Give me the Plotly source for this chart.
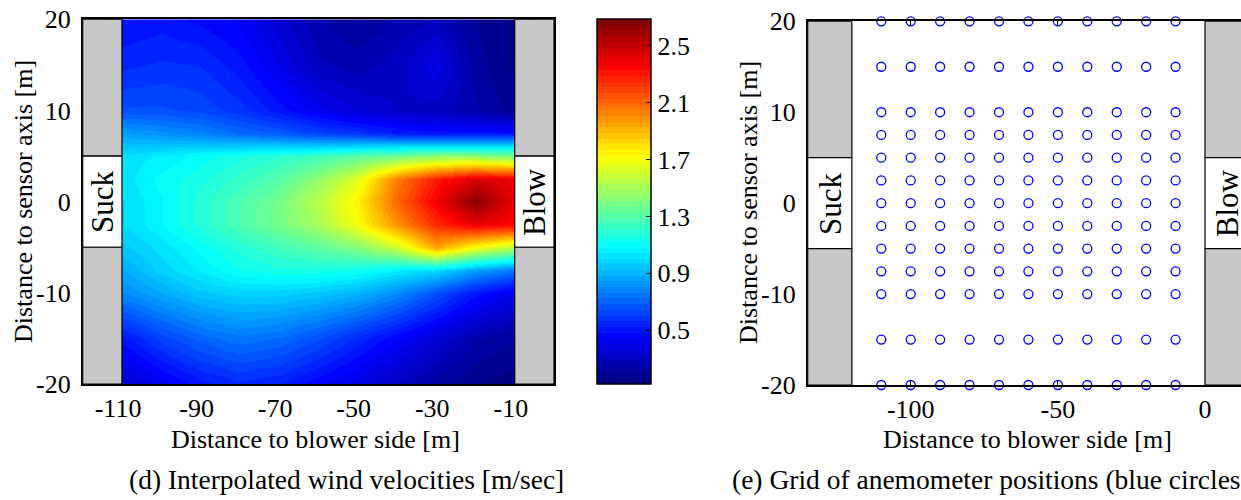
import plotly.graph_objects as go

# ---------------- data ----------------
# anemometer grid (columns = distance to blower side, rows = distance to sensor axis)
x_pos = [-110, -100, -90, -80, -70, -60, -50, -40, -30, -20, -10]
y_pos = [20, 15, 10, 7.5, 5, 2.5, 0, -2.5, -5, -7.5, -10, -15, -20]

# wind velocities [m/sec] at the grid positions (rows follow y_pos, top to bottom)
v_y20 = [0.48, 0.50, 0.47, 0.43, 0.34, 0.25, 0.20, 0.25, 0.28, 0.20, 0.15]
v_y15 = [0.55, 0.57, 0.56, 0.50, 0.40, 0.29, 0.26, 0.30, 0.40, 0.22, 0.15]
v_y10 = [0.65, 0.65, 0.63, 0.58, 0.50, 0.42, 0.36, 0.32, 0.30, 0.25, 0.18]
v_y7_5 = [0.85, 0.82, 0.78, 0.72, 0.68, 0.62, 0.58, 0.52, 0.50, 0.50, 0.50]
v_y5 = [1.02, 1.05, 1.10, 1.15, 1.20, 1.25, 1.32, 1.38, 1.45, 1.45, 1.40]
v_y2_5 = [1.02, 1.10, 1.15, 1.22, 1.30, 1.45, 1.65, 2.05, 2.30, 2.45, 2.40]
v_y0 = [1.00, 1.08, 1.18, 1.28, 1.38, 1.55, 1.75, 2.10, 2.38, 2.65, 2.40]
v_ym2_5 = [1.00, 1.08, 1.18, 1.28, 1.38, 1.50, 1.70, 2.00, 2.25, 2.40, 2.35]
v_ym5 = [0.95, 1.02, 1.10, 1.18, 1.25, 1.32, 1.42, 1.60, 1.95, 1.70, 1.55]
v_ym7_5 = [0.88, 0.98, 1.05, 1.12, 1.15, 1.15, 1.12, 1.05, 1.00, 0.85, 0.75]
v_ym10 = [0.80, 0.88, 0.95, 0.98, 0.98, 0.95, 0.90, 0.80, 0.65, 0.50, 0.40]
v_ym15 = [0.50, 0.62, 0.70, 0.75, 0.72, 0.65, 0.55, 0.45, 0.35, 0.25, 0.20]
v_ym20 = [0.32, 0.42, 0.50, 0.55, 0.52, 0.45, 0.38, 0.30, 0.22, 0.16, 0.14]

velocity_rows = [v_y20, v_y15, v_y10, v_y7_5, v_y5, v_y2_5, v_y0,
                 v_ym2_5, v_ym5, v_ym7_5, v_ym10, v_ym15, v_ym20]

left_xtick_labels = ["-110", "-90", "-70", "-50", "-30", "-10"]
right_xtick_labels = ["-100", "-50", "0"]
ytick_labels = ["-20", "-10", "0", "10", "20"]
cbar_tick_labels = ["0.5", "0.9", "1.3", "1.7", "2.1", "2.5"]
v_min, v_max = 0.12, 2.69

x_title = "Distance to blower side [m]"
y_title = "Distance to sensor axis [m]"
caption_d = "(d) Interpolated wind velocities [m/sec]"
caption_e = "(e) Grid of anemometer positions (blue circles)"

# ---------------- styling ----------------
FONT = "Liberation Serif"
FS = 26
CAP_FS = 27.5
W, H = 1241, 500


def jet(t):
    def c(v):
        return min(max(v, 0.0), 1.0)
    r = c(1.5 - abs(4 * t - 3))
    g = c(1.5 - abs(4 * t - 2))
    b = c(1.5 - abs(4 * t - 1))
    return f"rgb({int(round(r*255))},{int(round(g*255))},{int(round(b*255))})"


N = 64
jet_scale = []
for i in range(N):
    col = jet(i / (N - 1))
    jet_scale.append([i / N, col])
    jet_scale.append([(i + 1) / N, col])


def px_x(p):
    return p / W


def px_y(p):
    return (H - p) / H


L_X0, L_X1, L_Y0, L_Y1 = 82.7, 554.0, 19.3, 384.0
R_X0, R_Y0, R_Y1 = 807.7, 21.3, 385.0

# heatmap data ordered bottom-to-top
y_inc = list(reversed(y_pos))
z_inc = list(reversed(velocity_rows))

fig = go.Figure()

fig.add_trace(go.Heatmap(
    x=x_pos, y=y_inc, z=z_inc,
    zsmooth="best", colorscale=jet_scale, zmin=v_min, zmax=v_max,
    xaxis="x", yaxis="y", hoverinfo="skip",
    colorbar=dict(
        x=px_x(596.7), xanchor="left", xpad=0,
        y=px_y(L_Y1), yanchor="bottom", ypad=0,
        lenmode="pixels", len=L_Y1 - L_Y0,
        thicknessmode="pixels", thickness=54,
        outlinewidth=1.5, outlinecolor="black",
        tickvals=[float(s) for s in cbar_tick_labels], ticktext=cbar_tick_labels,
        ticks="inside", ticklen=5, tickcolor="black",
        tickfont=dict(family=FONT, size=FS, color="black"),
    ),
))

gx, gy = [], []
for yy in y_pos:
    for xx in x_pos:
        gx.append(xx)
        gy.append(yy)

fig.add_trace(go.Scatter(
    x=gx, y=gy, mode="markers", xaxis="x2", yaxis="y2",
    marker=dict(symbol="circle-open", size=9, color="#0000ff",
                line=dict(width=1.3, color="#0000ff")),
    cliponaxis=False, hoverinfo="skip", showlegend=False,
))

axis_common = dict(showgrid=False, zeroline=False, showline=True,
                   linecolor="black", linewidth=1.5,
                   tickfont=dict(family=FONT, size=FS, color="black"))

tick_offset = -1.0
fig.update_layout(
    width=W, height=H,
    margin=dict(l=0, r=0, t=0, b=0, pad=0, autoexpand=False),
    paper_bgcolor="white", plot_bgcolor="white",
    showlegend=False,
    xaxis=dict(domain=[px_x(L_X0), px_x(L_X1)], range=[-120, 0], anchor="y",
               tickvals=[float(s) + tick_offset for s in left_xtick_labels],
               ticktext=left_xtick_labels, ticks="", mirror=True,
               ticklabelstandoff=0, **axis_common),
    yaxis=dict(domain=[px_y(L_Y1), px_y(L_Y0)], range=[-20, 20], anchor="x",
               tickvals=[float(s) for s in ytick_labels], ticktext=ytick_labels,
               ticks="", mirror=True, ticklabelstandoff=5, **axis_common),
    xaxis2=dict(domain=[px_x(R_X0), 1.0], range=[-135, 12.23], anchor="y2",
                tickvals=[float(s) for s in right_xtick_labels], ticktext=right_xtick_labels,
                ticks="inside", ticklen=5, tickcolor="black", mirror="ticks",
                ticklabelstandoff=0, **axis_common),
    yaxis2=dict(domain=[px_y(R_Y1), px_y(R_Y0)], range=[-20, 20], anchor="x2",
                tickvals=[float(s) for s in ytick_labels], ticktext=ytick_labels,
                ticks="inside", ticklen=5, tickcolor="black", mirror=False,
                ticklabelstandoff=5, **axis_common),
)

shapes = []


def side_box(xref, yref, x0, x1):
    grey = "#c8c8c8"
    line = dict(color="black", width=1.2)
    for (ya, yb, fill) in [(5, 20, grey), (-5, 5, "white"), (-20, -5, grey)]:
        shapes.append(dict(type="rect", xref=xref, yref=yref, x0=x0, x1=x1,
                           y0=ya, y1=yb, fillcolor=fill, line=line, layer="above"))


side_box("x", "y", -120, -110)
side_box("x", "y", -10, 0)
side_box("x2", "y2", -135, -120)
side_box("x2", "y2", 0, 15)
fig.update_layout(shapes=shapes)

ann = []
lab_font = dict(family=FONT, size=31, color="black")
ann.append(dict(x=-115, y=0, xref="x", yref="y", text="Suck", textangle=-90,
                showarrow=False, font=lab_font, xanchor="center", yanchor="middle"))
ann.append(dict(x=-5, y=0, xref="x", yref="y", text="Blow", textangle=-90,
                showarrow=False, font=lab_font, xanchor="center", yanchor="middle"))
ann.append(dict(x=-127.5, y=0, xref="x2", yref="y2", text="Suck", textangle=-90,
                showarrow=False, font=lab_font, xanchor="center", yanchor="middle"))
ann.append(dict(x=7.5, y=0, xref="x2", yref="y2", text="Blow", textangle=-90,
                showarrow=False, font=lab_font, xanchor="center", yanchor="middle"))

tfont = dict(family=FONT, size=FS, color="black")
cfont = dict(family=FONT, size=CAP_FS, color="black")
ann.append(dict(x=px_x(315.5), y=px_y(439), xref="paper", yref="paper", text=x_title,
                showarrow=False, font=tfont, xanchor="center", yanchor="middle"))
ann.append(dict(x=px_x(1027), y=px_y(439), xref="paper", yref="paper", text=x_title,
                showarrow=False, font=tfont, xanchor="center", yanchor="middle"))
ann.append(dict(x=px_x(23), y=px_y(202), xref="paper", yref="paper", text=y_title,
                textangle=-90, showarrow=False, font=tfont, xanchor="center", yanchor="middle"))
ann.append(dict(x=px_x(748), y=px_y(203), xref="paper", yref="paper", text=y_title,
                textangle=-90, showarrow=False, font=tfont, xanchor="center", yanchor="middle"))
ann.append(dict(x=px_x(127), y=px_y(479), xref="paper", yref="paper", text=caption_d,
                showarrow=False, font=cfont, xanchor="left", yanchor="middle"))
ann.append(dict(x=px_x(730), y=px_y(479), xref="paper", yref="paper", text=caption_e,
                showarrow=False, font=cfont, xanchor="left", yanchor="middle"))
fig.update_layout(annotations=ann)

fig.write_html("out.html")
